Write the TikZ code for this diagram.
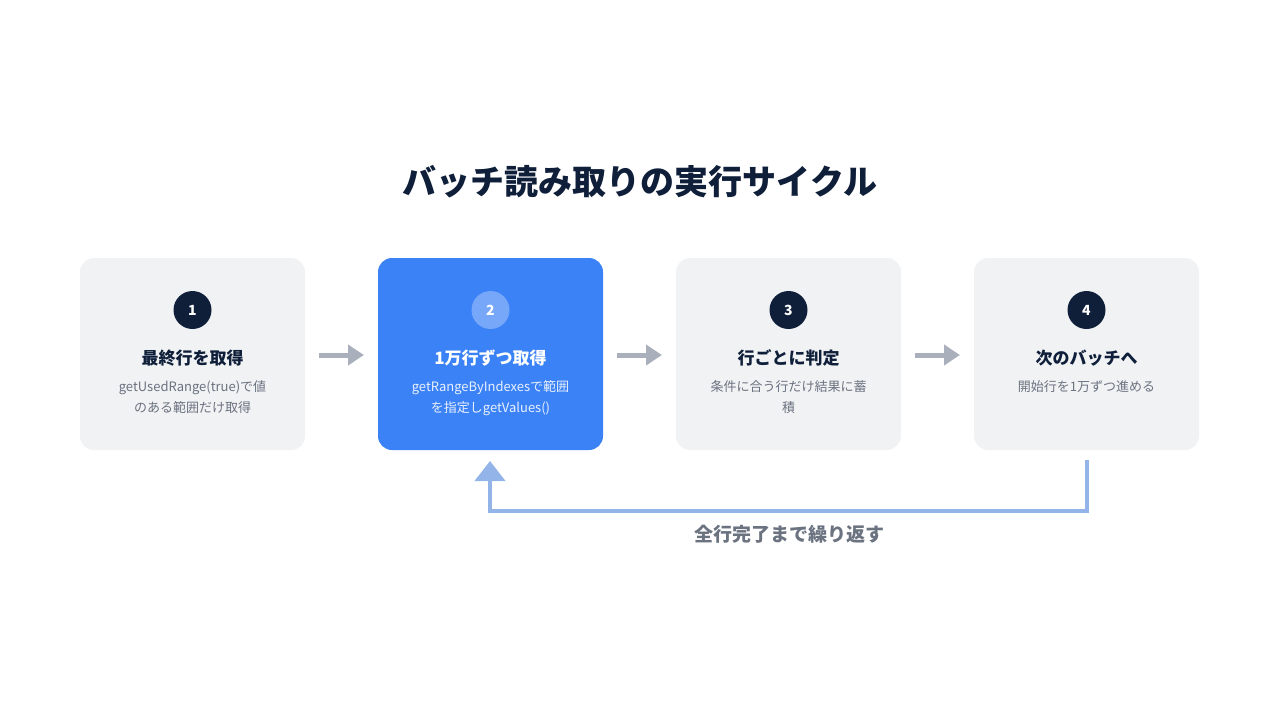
\documentclass[tikz,border=0pt]{standalone}
\usepackage{fontspec}
\setmainfont{Noto Sans CJK JP}
\usetikzlibrary{arrows.meta}
\definecolor{dark}{HTML}{0F1F3A}
\definecolor{boxg}{HTML}{F1F2F4}
\definecolor{blue1}{HTML}{3B82F6}
\definecolor{txtg}{HTML}{6B7280}
\definecolor{arrg}{HTML}{A9B0BC}
\definecolor{loopc}{HTML}{93B4E8}
\begin{document}
\begin{tikzpicture}[x=1pt,y=-1pt,
 box/.style={rounded corners=14pt,minimum width=225pt,minimum height=192pt,inner sep=0pt},
 num/.style={circle,minimum size=38pt,inner sep=0pt,font=\bfseries\fontsize{14}{14}\selectfont},
 ttl/.style={font=\bfseries\fontsize{17}{17}\selectfont},
 dsc/.style={align=center,font=\fontsize{13}{21}\selectfont},
 arr/.style={arrg,line width=5pt,-{Triangle[length=16pt,width=20pt]}}]
\useasboundingbox (0,0) rectangle (1280,720);
\node[font=\bfseries\fontsize{34}{34}\selectfont,text=dark] (title) at (640,182) {バッチ読み取りの実行サイクル};
\foreach \i/\x/\fc/\cc/\nc/\tc/\dc/\t/\d in {
 1/192.5/boxg/dark/white/dark/txtg/最終行を取得/{getUsedRange(true)で値\\のある範囲だけ取得},
 2/490.5/blue1/white!30!blue1/white/white/white!88!blue1/1万行ずつ取得/{getRangeByIndexesで範囲\\を指定しgetValues()},
 3/788.5/boxg/dark/white/dark/txtg/行ごとに判定/{条件に合う行だけ結果に蓄\\積},
 4/1086.5/boxg/dark/white/dark/txtg/次のバッチへ/{開始行を1万ずつ進める}}{
 \node[box,fill=\fc] (b\i) at (\x,354) {};
 \node[num,fill=\cc,text=\nc] (n\i) at (\x,310) {\i};
 \node[ttl,text=\tc] (t\i) at (\x,358) {\t};
 \node[dsc,text=\dc,anchor=north] (d\i) at (\x,377) {\d};
}
\coordinate (a1s) at (319,355); \coordinate (a1e) at (364,355);
\coordinate (a2s) at (617,355); \coordinate (a2e) at (662,355);
\coordinate (a3s) at (915,355); \coordinate (a3e) at (960,355);
\draw[arr] (a1s) -- (a1e);
\draw[arr] (a2s) -- (a2e);
\draw[arr] (a3s) -- (a3e);
\coordinate (ls) at (1087,460); \coordinate (le) at (490,461);
\draw[loopc,line width=4pt,-{Triangle[length=20pt,width=30pt]}] (ls) |- (490,511) -- (le);
\node[font=\bfseries\fontsize{19}{19}\selectfont,text=txtg] (lbl) at (789,534) {全行完了まで繰り返す};
\end{tikzpicture}
\end{document}
